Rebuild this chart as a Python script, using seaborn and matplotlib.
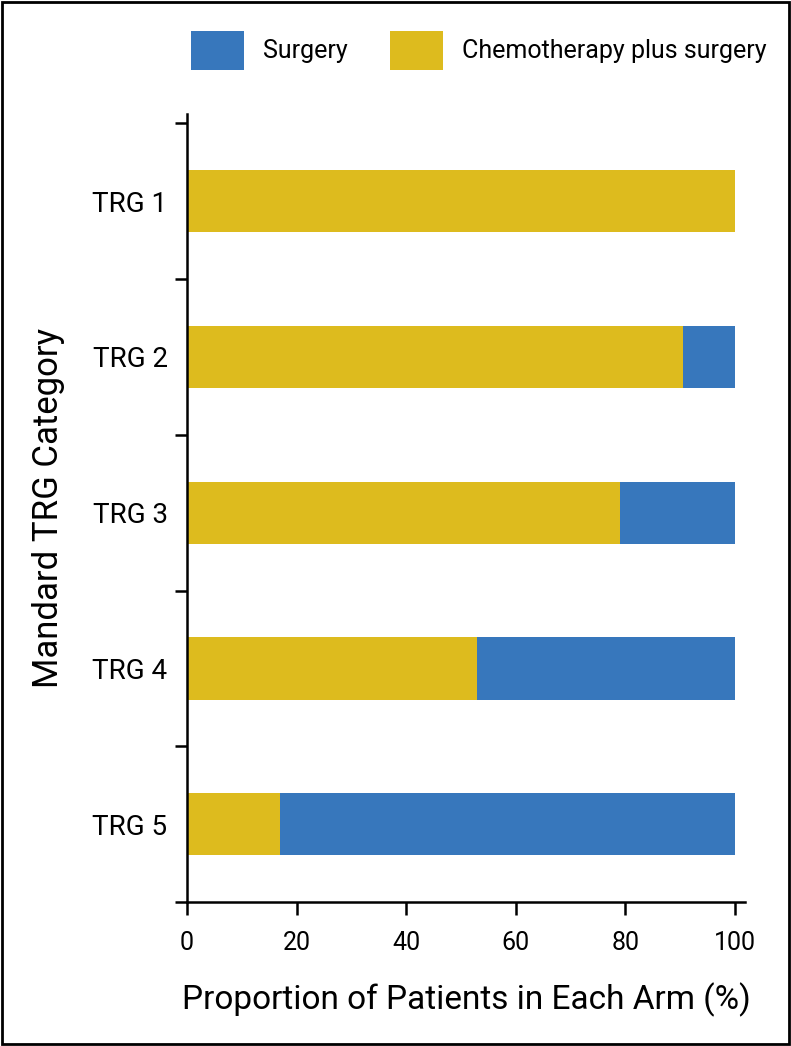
import numpy as np
import pandas as pd
import matplotlib
matplotlib.use("Agg")
import matplotlib.pyplot as plt
import seaborn as sns
from matplotlib.patches import Patch, Rectangle

# data
categories = ["TRG 1", "TRG 2", "TRG 3", "TRG 4", "TRG 5"]
chemo_pct = [100, 90.5, 79, 53, 17]
surgery_pct = [0, 9.5, 21, 47, 83]
x_ticks = [0, 20, 40, 60, 80, 100]

blue = "#3777bc"
yellow = "#ddbb1e"

sns.set_style("white")
plt.rcParams["font.family"] = ["Roboto", "DejaVu Sans"]
plt.rcParams["text.color"] = "black"
plt.rcParams["axes.labelcolor"] = "black"
plt.rcParams["xtick.color"] = "black"
plt.rcParams["ytick.color"] = "black"

df = pd.DataFrame({"cat": categories, "chemo": chemo_pct, "surgery": surgery_pct})
df["total"] = df["chemo"] + df["surgery"]

fig = plt.figure(figsize=(7.91, 10.46), dpi=100)
ax = fig.add_axes([0.2364, 0.1377, 0.7054, 0.7533])

# stacked bars: total in blue, chemo overlaid in yellow
sns.barplot(data=df, x="total", y="cat", orient="h", color=blue, width=0.4,
            saturation=1, linewidth=0, ax=ax)
sns.barplot(data=df, x="chemo", y="cat", orient="h", color=yellow, width=0.4,
            saturation=1, linewidth=0, ax=ax)

ax.set_xlim(0, 101.8)
ax.set_ylim(4.5, -0.56)
ax.set_xticks(x_ticks)
ax.set_xticklabels([str(t) for t in x_ticks], fontsize=18)
ax.set_yticks(range(len(categories)))
ax.set_yticklabels(categories, fontsize=20)
ax.set_yticks(np.arange(-0.5, 4.6, 1), minor=True)
ax.tick_params(axis="y", which="major", left=True, length=0, pad=14)
ax.tick_params(axis="y", which="minor", left=True, length=9, width=1.8, direction="out")
ax.tick_params(axis="x", which="major", bottom=True, length=9, width=1.8, direction="out", pad=12)

for s in ["top", "right"]:
    ax.spines[s].set_visible(False)
for s in ["left", "bottom"]:
    ax.spines[s].set_linewidth(1.8)
    ax.spines[s].set_color("black")

ax.set_xlabel("Proportion of Patients in Each Arm (%)", fontsize=24, labelpad=20)
ax.set_ylabel("Mandard TRG Category", fontsize=25, labelpad=20)

handles = [Patch(facecolor=blue, edgecolor="none", label="Surgery"),
           Patch(facecolor=yellow, edgecolor="none", label="Chemotherapy plus surgery")]
fig.legend(handles=handles, loc="center left", bbox_to_anchor=(0.2415, 0.952), ncol=2,
           frameon=False, fontsize=18, handlelength=2.12, handleheight=2.0,
           handletextpad=0.76, columnspacing=1.7, borderpad=0, borderaxespad=0)

# frame round the whole figure
fig.patches.append(Rectangle((0.002, 0.002), 0.996, 0.996, transform=fig.transFigure,
                             fill=False, edgecolor="black", linewidth=2))

fig.savefig("out.png", dpi=100)
